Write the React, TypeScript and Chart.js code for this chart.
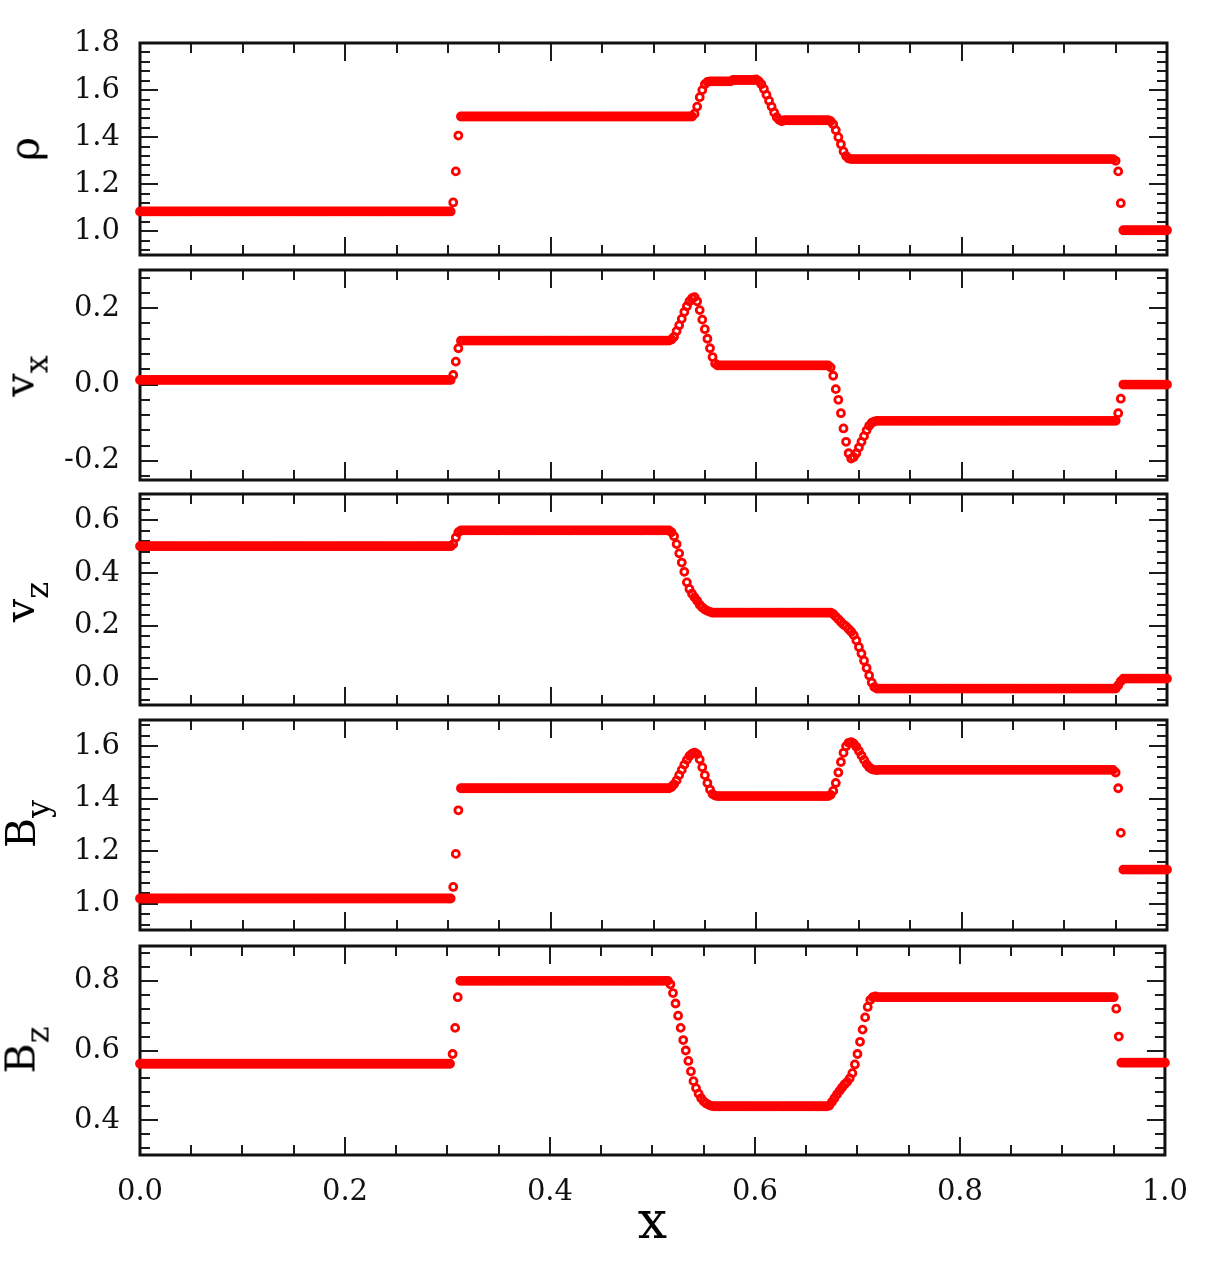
import React, { useEffect, useRef } from "react";
import { Chart, registerables } from "chart.js";

Chart.register(...registerables);

// ---------- data ----------
// grid: x = i / N_CELLS, i = 0..N_CELLS
const N_CELLS = 400;
// run-length encoded samples: a number is one sample, [count, value] is a run of equal samples
type Run = number | [number, number];

const rhoRuns: Run[] = [
  [122, 1.085], 1.123, 1.255, 1.407, [91, 1.488],
  1.5, 1.53, 1.57, 1.6, 1.625, 1.635, [9, 1.637], [9, 1.643], 1.645,
  1.638, 1.625, 1.605, 1.58, 1.555, 1.53, 1.505, 1.485, 1.473, 1.468, [18, 1.472],
  1.468, 1.455, 1.43, 1.4, 1.37, 1.34, 1.32, 1.31, [103, 1.307],
  1.3, 1.255, 1.12, [18, 1.005],
];

const vxRuns: Run[] = [
  [122, 0.012], 0.025, 0.06, 0.095, [82, 0.115],
  0.118, 0.125, 0.14, 0.155, 0.172, 0.19, 0.205, 0.218, 0.226,
  0.229, 0.218, 0.195, 0.17, 0.145, 0.12, 0.095, 0.072, 0.055, [44, 0.05],
  0.045, 0.023, -0.012, -0.04, -0.075, -0.115, -0.15, -0.18, -0.194,
  -0.19, -0.18, -0.165, -0.15, -0.135, -0.12, -0.108, -0.1, -0.097, -0.095, [93, -0.095],
  -0.075, -0.037, [18, 0.0],
];

const vzRuns: Run[] = [
  [122, 0.502], 0.51, 0.535, 0.555, [82, 0.562],
  0.555, 0.54, 0.51, 0.475, 0.44, 0.405, 0.365, 0.34, 0.322, 0.308, 0.295, 0.28, 0.27, 0.262, 0.257, 0.253, 0.25,
  [45, 0.25],
  0.25, 0.245, 0.235, 0.225, 0.215, 0.205, 0.198, 0.188, 0.178, 0.165, 0.145, 0.12, 0.095, 0.068, 0.04, 0.012, -0.015, -0.032, -0.038,
  [93, -0.038], -0.025, -0.01, [18, 0.0],
];

const byRuns: Run[] = [
  [122, 1.02], 1.064, 1.19, 1.356, [82, 1.44],
  1.445, 1.455, 1.47, 1.49, 1.51, 1.53, 1.548, 1.563, 1.572, 1.576, 1.57, 1.55, 1.52, 1.49, 1.46, 1.435, 1.418, 1.412,
  [44, 1.41],
  1.415, 1.43, 1.46, 1.5, 1.54, 1.575, 1.6, 1.613, 1.616, 1.61, 1.598, 1.582, 1.565, 1.548, 1.532, 1.52, 1.513, 1.51, 1.509,
  [92, 1.51], 1.5, 1.44, 1.27, [18, 1.13],
];

const bzRuns: Run[] = [
  [122, 0.562], 0.59, 0.665, 0.753, [82, 0.8],
  0.79, 0.765, 0.735, 0.7, 0.665, 0.63, 0.6, 0.57, 0.54, 0.512, 0.492, 0.476, 0.463, 0.454, 0.448, 0.444, 0.441, 0.44,
  [44, 0.44],
  0.442, 0.452, 0.463, 0.474, 0.484, 0.494, 0.503, 0.51, 0.52, 0.535, 0.56, 0.59, 0.625, 0.66, 0.695, 0.725, 0.745, 0.753, 0.755,
  [93, 0.753], 0.72, 0.64, [18, 0.565],
];

// tick labels
const xTickLabels = [0, 0.2, 0.4, 0.6, 0.8, 1.0];
const rhoTicks = [1.0, 1.2, 1.4, 1.6, 1.8];
const vxTicks = [-0.2, 0.0, 0.2];
const vzTicks = [0.0, 0.2, 0.4, 0.6];
const byTicks = [1.0, 1.2, 1.4, 1.6];
const bzTicks = [0.4, 0.6, 0.8];

// ---------- helpers ----------
function expand(runs: Run[]): number[] {
  const out: number[] = [];
  for (const r of runs) {
    if (Array.isArray(r)) for (let k = 0; k < r[0]; k++) out.push(r[1]);
    else out.push(r);
  }
  return out;
}
function toPoints(runs: Run[]) {
  return expand(runs).map((v, i) => ({ x: i / N_CELLS, y: v }));
}

const FONT = '"DejaVu Serif", "Liberation Serif", serif';
const W = 1208;
const H = 1269;
const PLOT_LEFT = 140;
const PLOT_RIGHT = 1167;
const PAD = 42;

type PanelCfg = {
  runs: Run[];
  ticks: number[];
  min: number;
  max: number;
  top: number;
  bottom: number;
  last?: boolean;
};

const panels: PanelCfg[] = [
  { runs: rhoRuns, ticks: rhoTicks, min: 0.9, max: 1.8, top: 43, bottom: 255 },
  { runs: vxRuns, ticks: vxTicks, min: -0.25, max: 0.3, top: 270, bottom: 480 },
  { runs: vzRuns, ticks: vzTicks, min: -0.1, max: 0.7, top: 494, bottom: 705 },
  { runs: byRuns, ticks: byTicks, min: 0.9, max: 1.7, top: 720, bottom: 930 },
  { runs: bzRuns, ticks: bzTicks, min: 0.3, max: 0.9, top: 946, bottom: 1155, last: true },
];

const frameTicks = {
  id: "frameTicks",
  beforeDatasetsDraw(chart: any) {
    const { ctx, chartArea: a, scales } = chart;
    const xs = scales.x;
    const ys = scales.y;
    ctx.save();
    ctx.strokeStyle = "#1c1c1c";
    ctx.lineWidth = 2;
    const minorLen = 10;
    const majorLen = 18;
    // y ticks, step 0.04, major every 0.2
    const yStep = 0.04;
    const k0 = Math.ceil(ys.min / yStep - 1e-6);
    const k1 = Math.floor(ys.max / yStep + 1e-6);
    ctx.beginPath();
    for (let k = k0; k <= k1; k++) {
      const p = Math.round(ys.getPixelForValue(k * yStep));
      if (p <= a.top + 1 || p >= a.bottom - 1) continue;
      const len = k % 5 === 0 ? majorLen : minorLen;
      ctx.moveTo(a.left, p);
      ctx.lineTo(a.left + len, p);
      ctx.moveTo(a.right, p);
      ctx.lineTo(a.right - len, p);
    }
    // x ticks, step 0.05, major every 0.2
    const xStep = 0.05;
    for (let k = 1; k < 20; k++) {
      const p = Math.round(xs.getPixelForValue(k * xStep));
      const len = k % 4 === 0 ? majorLen : minorLen;
      ctx.moveTo(p, a.top);
      ctx.lineTo(p, a.top + len);
      ctx.moveTo(p, a.bottom);
      ctx.lineTo(p, a.bottom - len);
    }
    ctx.stroke();
    ctx.lineWidth = 3;
    ctx.strokeStyle = "#111";
    ctx.strokeRect(a.left, a.top, a.right - a.left, a.bottom - a.top);
    ctx.restore();
  },
};

function Panel({ cfg }: { cfg: PanelCfg }) {
  const ref = useRef<HTMLCanvasElement | null>(null);
  const canvasTop = cfg.top - PAD;
  const canvasH = cfg.last ? H - canvasTop : cfg.bottom + PAD - canvasTop;
  const xAxisH = cfg.last ? H - cfg.bottom : PAD;

  useEffect(() => {
    if (!ref.current) return;
    const chart = new Chart(ref.current, {
      type: "scatter",
      data: {
        datasets: [
          {
            data: toPoints(cfg.runs),
            showLine: false,
            pointStyle: "circle",
            pointRadius: 3.5,
            pointBorderWidth: 2.8,
            pointBorderColor: "#ff0000",
            pointBackgroundColor: "rgba(255,255,255,0)",
            clip: false as any,
          } as any,
        ],
      },
      options: {
        responsive: false,
        animation: false,
        devicePixelRatio: 1,
        events: [],
        layout: { padding: { top: PAD, right: W - PLOT_RIGHT, bottom: 0, left: 0 } },
        plugins: {
          legend: { display: false },
          tooltip: { enabled: false },
        } as any,
        scales: {
          x: {
            type: "linear",
            position: "bottom",
            min: 0,
            max: 1,
            grid: { display: false, drawTicks: false },
            border: { display: false },
            afterBuildTicks: (s: any) => {
              s.ticks = xTickLabels.map((v) => ({ value: v }));
            },
            afterFit: (s: any) => {
              s.height = xAxisH;
            },
            ticks: {
              display: !!cfg.last,
              autoSkip: false,
              maxRotation: 0,
              padding: 20,
              color: "#111",
              font: { family: FONT, size: 29 },
              callback: (v: any) => Number(v).toFixed(1),
            },
            title: {
              display: !!cfg.last,
              text: "x",
              color: "#000",
              font: { family: FONT, size: 52 },
              padding: { top: 0, bottom: 13 },
            },
          },
          y: {
            type: "linear",
            min: cfg.min,
            max: cfg.max,
            grid: { display: false, drawTicks: false },
            border: { display: false },
            afterBuildTicks: (s: any) => {
              s.ticks = cfg.ticks.map((v) => ({ value: v }));
            },
            afterFit: (s: any) => {
              s.width = PLOT_LEFT;
            },
            ticks: {
              autoSkip: false,
              padding: 20,
              color: "#111",
              font: { family: FONT, size: 29 },
              callback: (v: any) => Number(v).toFixed(1),
            },
          },
        },
      } as any,
      plugins: [frameTicks as any],
    });
    return () => chart.destroy();
  }, []);

  return (
    <canvas
      ref={ref}
      width={W}
      height={canvasH}
      style={{ position: "absolute", left: 0, top: canvasTop, width: W, height: canvasH, display: "block" }}
    />
  );
}

function YTitle({ cx, cy, main, sub }: { cx: number; cy: number; main: string; sub?: string }) {
  return (
    <div
      style={{
        position: "absolute",
        left: cx,
        top: cy,
        transform: "translate(-50%, -50%) rotate(-90deg)",
        fontFamily: FONT,
        fontSize: 41,
        lineHeight: 1,
        whiteSpace: "nowrap",
        color: "#000",
        zIndex: 2,
      }}
    >
      {main}
      {sub ? <span style={{ fontSize: 32, position: "relative", top: 14 }}>{sub}</span> : null}
    </div>
  );
}

export default function App() {
  return (
    <div style={{ position: "absolute", left: 0, top: 0, width: W, height: H, background: "#fff", overflow: "hidden" }}>
      {panels.map((p, i) => (
        <Panel key={i} cfg={p} />
      ))}
      <YTitle cx={25} cy={149} main="ρ" />
      <YTitle cx={20} cy={376} main="v" sub="x" />
      <YTitle cx={20} cy={602} main="v" sub="z" />
      <YTitle cx={21} cy={824} main="B" sub="y" />
      <YTitle cx={21} cy={1050} main="B" sub="z" />
    </div>
  );
}
